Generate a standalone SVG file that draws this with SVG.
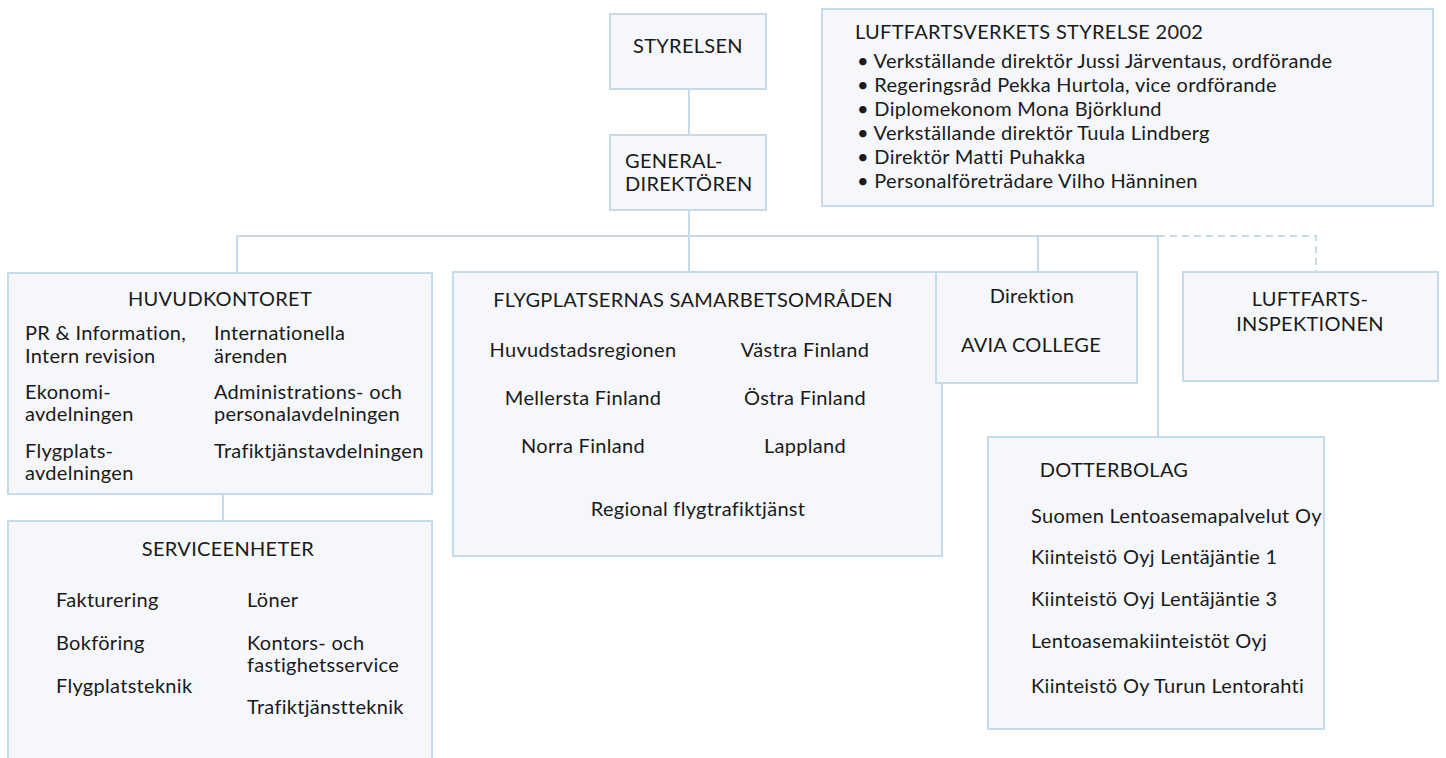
<svg xmlns="http://www.w3.org/2000/svg" width="1446" height="758" viewBox="0 0 1446 758">
<style>
.box{fill:#f5f7fa;stroke:#c6dbe9;stroke-width:2}
.ln{fill:none;stroke:#c6dbe9;stroke-width:2}
.dash{fill:none;stroke:#c6dbe9;stroke-width:2;stroke-dasharray:7 5}
text{font-family:Lato,"Open Sans","DejaVu Sans",sans-serif;font-size:20px;letter-spacing:0.3px;fill:#1a1a1a}
.c{text-anchor:middle}
</style>
<rect width="1446" height="758" fill="#ffffff"/>
<g id="connectors">
<path class="ln" d="M689 89V135M689 210V272M237 236H1158M237 236V273M1038 236V272M1158 236V437M223 494V521"/>
<path class="dash" d="M1158 236H1316V272"/>
</g>
<g id="styrelsen"><rect class="box" x="610" y="14" width="156" height="75"/><text class="c" x="688" y="53">STYRELSEN</text></g>
<g id="generaldirektoren"><rect class="box" x="610" y="135" width="156" height="75"/><text x="625" y="168">GENERAL-</text><text x="625" y="191">DIREKTÖREN</text></g>
<g id="board"><rect class="box" x="822" y="9" width="611" height="197"/>
<text x="855" y="39">LUFTFARTSVERKETS STYRELSE 2002</text>
<text x="857" y="68">• Verkställande direktör Jussi Järventaus, ordförande</text>
<text x="857" y="92">• Regeringsråd Pekka Hurtola, vice ordförande</text>
<text x="857" y="116">• Diplomekonom Mona Björklund</text>
<text x="857" y="140">• Verkställande direktör Tuula Lindberg</text>
<text x="857" y="164">• Direktör Matti Puhakka</text>
<text x="857" y="188">• Personalföreträdare  Vilho Hänninen</text>
</g>
<g id="huvudkontoret"><rect class="box" x="8" y="273" width="424" height="221"/>
<text class="c" x="220" y="306">HUVUDKONTORET</text>
<text x="25" y="340">PR &amp; Information,</text><text x="25" y="363">Intern revision</text>
<text x="214" y="340">Internationella</text><text x="214" y="363">ärenden</text>
<text x="25" y="399">Ekonomi-</text><text x="25" y="421">avdelningen</text>
<text x="214" y="399">Administrations- och</text><text x="214" y="421">personalavdelningen</text>
<text x="25" y="458">Flygplats-</text><text x="25" y="480">avdelningen</text>
<text x="214" y="458">Trafiktjänstavdelningen</text>
</g>
<g id="flygplatsernas"><rect class="box" x="453" y="272" width="489" height="284"/>
<text class="c" x="693" y="307">FLYGPLATSERNAS SAMARBETSOMRÅDEN</text>
<text class="c" x="583" y="357">Huvudstadsregionen</text><text class="c" x="805" y="357">Västra Finland</text>
<text class="c" x="583" y="405">Mellersta Finland</text><text class="c" x="805" y="405">Östra Finland</text>
<text class="c" x="583" y="453">Norra Finland</text><text class="c" x="805" y="453">Lappland</text>
<text class="c" x="698" y="516">Regional flygtrafiktjänst</text>
</g>
<g id="avia"><rect class="box" x="936" y="272" width="201" height="111"/>
<text class="c" x="1032" y="303">Direktion</text><text class="c" x="1031" y="352">AVIA COLLEGE</text></g>
<g id="luftfartsinspektionen"><rect class="box" x="1183" y="272" width="255" height="109"/>
<text class="c" x="1310" y="306">LUFTFARTS-</text><text class="c" x="1310" y="331">INSPEKTIONEN</text></g>
<g id="dotterbolag"><rect class="box" x="988" y="437" width="336" height="292"/>
<text class="c" x="1114" y="477">DOTTERBOLAG</text>
<text x="1031" y="523">Suomen Lentoasemapalvelut Oy</text>
<text x="1031" y="564">Kiinteistö Oyj Lentäjäntie 1</text>
<text x="1031" y="606">Kiinteistö Oyj Lentäjäntie 3</text>
<text x="1031" y="648">Lentoasemakiinteistöt Oyj</text>
<text x="1031" y="693">Kiinteistö Oy Turun Lentorahti</text>
</g>
<g id="serviceenheter"><rect class="box" x="8" y="521" width="424" height="250"/>
<text class="c" x="228" y="556">SERVICEENHETER</text>
<text x="56" y="607">Fakturering</text><text x="56" y="650">Bokföring</text><text x="56" y="693">Flygplatsteknik</text>
<text x="247" y="607">Löner</text><text x="247" y="650">Kontors- och</text><text x="247" y="672">fastighetsservice</text><text x="247" y="714">Trafiktjänstteknik</text>
</g>
</svg>
